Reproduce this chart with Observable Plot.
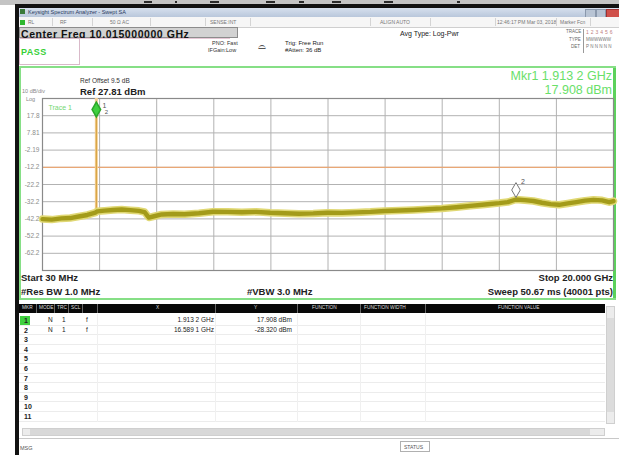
<!DOCTYPE html>
<html><head><meta charset="utf-8">
<script src="https://cdn.jsdelivr.net/npm/d3@7"></script>
<script src="https://cdn.jsdelivr.net/npm/@observablehq/plot@0.6"></script>
<style>
body{margin:0;width:619px;height:455px;overflow:hidden;background:#fff;font-family:"Liberation Sans",Arial,sans-serif;}
#root{position:absolute;left:0;top:0;width:619px;height:455px;overflow:hidden;}
.a{position:absolute;white-space:nowrap;line-height:1;}
.b{position:absolute;}
#plot{position:absolute;left:0;top:66px;}
</style></head><body><div id="root"></div>
<script>
// ---- data ----
const traceFreqGHz = [0.03,0.35,0.7,1.0,1.3,1.6,1.88,1.905,1.9132,1.92,1.95,2.2,2.5,2.8,3.1,3.4,3.6,3.75,3.9,4.2,4.6,5.0,5.5,6.0,6.5,7.0,7.5,8.0,8.5,9.0,9.5,10.0,10.5,11.0,11.5,12.0,12.5,13.0,13.5,14.0,14.5,15.0,15.5,16.0,16.3,16.5891,16.9,17.2,17.5,17.8,18.1,18.4,18.7,19.0,19.3,19.6,19.85,20.0];
const traceLevelDbm = [-42.3,-42.6,-41.9,-41.7,-40.8,-39.9,-38.6,-38.2,17.908,-38.0,-37.8,-37.4,-37.0,-36.7,-37.1,-37.5,-38.2,-41.4,-40.8,-39.6,-39.3,-39.5,-38.9,-38.0,-38.1,-38.3,-38.1,-38.6,-38.9,-39.2,-39.0,-38.6,-38.7,-38.4,-38.1,-37.6,-37.3,-37.0,-36.6,-36.1,-35.4,-34.6,-33.8,-33.0,-32.4,-30.9,-31.3,-31.8,-32.8,-33.6,-34.0,-33.2,-32.4,-31.6,-31.1,-31.4,-32.5,-31.8];
const markerIds = ["1","2"];
const markerFreqGHz = [1.9132,16.5891];
const markerLevelDbm = [17.908,-28.320];
const markerModes = ["N","N"];
const markerTraces = ["1","1"];
const markerScales = ["f","f"];
const markerXText = ["1.913 2 GHz","16.589 1 GHz"];
const markerYText = ["17.908 dBm","-28.320 dBm"];
const refLevelDbm = 27.81;
const dbPerDiv = 10;
const startGHz = 0.03, stopGHz = 20.0;
const yTicks = [17.81,7.81,-2.19,-12.19,-22.19,-32.19,-42.19,-52.19,-62.19];
const yTickLabels = ["17.8","7.81","-2.19","-12.2","-22.2","-32.2","-42.2","-52.2","-62.2"];
const displayLineDbm = -12.19;
const tableRows = ["1","2","3","4","5","6","7","8","9","10","11"];
const tableHeaders = [["MKR",22],["MODE",39],["TRC",57],["SCL",71],["X",156],["Y",254],["FUNCTION",312],["FUNCTION WIDTH",364],["FUNCTION VALUE",498]];

// ---- layout helpers ----
const root = document.getElementById("root");
function box(l,t,w,h,style){const d=document.createElement("div");d.className="b";d.style.cssText=`left:${l}px;top:${t}px;width:${w}px;height:${h}px;`+(style||"");root.appendChild(d);return d;}
function txt(s,l,t,size,style,right){const d=document.createElement("div");d.className="a";d.textContent=s;let pos=right?`right:${619-l}px;`:`left:${l}px;`;d.style.cssText=pos+`top:${t}px;font-size:${size}px;`+(style||"");root.appendChild(d);return d;}

// top strip (cropped glyph bottoms drawn as small dark strokes)
box(0,0,619,5,"background:#c4c4c4;");
[[144,8],[175,2],[210,9],[266,9],[299,5],[332,9],[384,9],[457,3]].forEach(([x,w])=>box(x,1,w,2,"background:#2a2a2a;"));
box(16,4,603,4,"background:#121212;");
box(15,4,4,451,"background:#121212;");
// title bar
box(19,8,600,9,"background:linear-gradient(#d6e0ee,#b9c7db);");
txt("Keysight Spectrum Analyzer - Swept SA",28,9.5,5.5,"color:#2a3a60;");
box(20,9,5,5,"background:#3a7a3a;");
box(585,9,9,7,"background:#b8c4d4;border:1px solid #8a98ac;");
box(596,9,8,7,"background:#b8c4d4;border:1px solid #8a98ac;");
box(606,9,12,7,"background:#d0504a;border:1px solid #a03030;");
// menu/status row
box(19,17,600,10,"background:#f6f6f6;border-bottom:1px solid #cfcfcf;");
box(20,20,5,5,"background:#2fb82f;");
[["RL",28],["RF",60],["50 Ω  AC",110],["SENSE:INT",210],["ALIGN AUTO",380],["12:46:17 PM Mar 03, 2018",497],["Marker Fcn",560]].forEach(([s,x])=>txt(s,x,20,5,"color:#777;"));
[52,92,150,205,250,370,430,495,556,590].forEach(x=>box(x,18,1,8,"background:#d4d4d4;"));
// center freq box
box(19,27,219,11,"background:#d2d2d2;border:1px solid #8c8c8c;box-sizing:border-box;");
txt("Center Freq 10.015000000 GHz",21,28.5,10.5,"font-weight:bold;color:#111;letter-spacing:0.55px;");
// settings area
box(19,38,600,28,"background:#fff;");
box(19,38,61,27,"border:1px solid #d9b9c9;box-sizing:border-box;");
txt("PASS",21,48,9,"font-weight:bold;color:#37d037;letter-spacing:0.5px;");
box(80,38,150,1,"background:#e6c8d6;");
txt("PNO: Fast",212,41,5.5,"color:#333;");
txt("IFGain:Low",208,48,5.5,"color:#333;");
txt("⌓",258,41,10,"color:#555;");
txt("Trig: Free Run",285,40,6,"color:#222;");
txt("#Atten: 36 dB",285,47,6,"color:#222;");
txt("Avg Type: Log-Pwr",400,30,7,"color:#222;");
txt("TRACE",566,30,4.5,"color:#666;");
txt("1 2 3 4 5 6",586,30,5,"color:#c08080;letter-spacing:0.3px;");
txt("TYPE",569,38,4.5,"color:#666;");
txt("MWWWWW",586,38,4.5,"color:#777;");
txt("DET",571,45,4.5,"color:#666;");
txt("P N N N N N",586,45,4.5,"color:#777;");
box(583,29,1,24,"background:#999;");
// graph panel
box(19,66,597,234,"border:2px solid #86df86;box-sizing:border-box;background:#fff;");
box(613,68,3,230,"background:#5cd15c;");
txt("Ref Offset 9.5 dB",80,78,6.5,"color:#333;");
txt("Ref 27.81 dBm",80,87,9.5,"font-weight:bold;color:#222;");
txt("10 dB/div",22,89,5.5,"color:#888;");
txt("Log",26,97,5.5,"color:#888;");
txt("Mkr1 1.913 2 GHz",612,70,12.5,"color:#69e069;",true);
txt("17.908 dBm",612,84,12.5,"color:#69e069;",true);
txt("Start 30 MHz",21,273,9.5,"font-weight:bold;color:#222;");
txt("Stop 20.000 GHz",613,273,9.5,"font-weight:bold;color:#222;",true);
txt("#Res BW 1.0 MHz",21,287,9.5,"font-weight:bold;color:#222;");
txt("#VBW 3.0 MHz",247,287,9.5,"font-weight:bold;color:#222;");
txt("Sweep  50.67 ms (40001 pts)",613,287,9.5,"font-weight:bold;color:#222;",true);

// ---- plot ----
const trace = traceFreqGHz.map((f,i)=>({f, v: traceLevelDbm[i]}));
const floorTrace = trace.filter(d => d.v < 0);
const spike = trace.filter(d => d.v >= 0).map(d => ({f: d.f, v: d.v, base: traceLevelDbm[traceLevelDbm.indexOf(d.v) - 1]}));
const markers = markerIds.map((id,i)=>({id, f: markerFreqGHz[i], v: markerLevelDbm[i]}));
const xGrid = d3.range(1,10).map(k=>startGHz + k*(stopGHz-startGHz)/10);
const labelOf = new Map(yTicks.map((t,i)=>[t,yTickLabels[i]]));
const yDomain = [refLevelDbm - 10*dbPerDiv, refLevelDbm];

const chart = Plot.plot({
  width: 619, height: 234,
  marginLeft: 42, marginRight: 6, marginTop: 32, marginBottom: 30,
  style: {background: "transparent", fontFamily: "Liberation Sans, Arial, sans-serif"},
  x: {domain: [startGHz, stopGHz], axis: null},
  y: {domain: yDomain, axis: null},
  marks: [
    Plot.ruleX(xGrid, {stroke: "#b2b2b2", strokeWidth: 1}),
    Plot.ruleY(yTicks, {stroke: "#b2b2b2", strokeWidth: 1}),
    Plot.ruleY([displayLineDbm], {stroke: "#e9a775", strokeWidth: 1.2}),
    Plot.frame({stroke: "#8a8a8a", strokeWidth: 1.2}),
    Plot.axisY(yTicks, {label: null, tickSize: 0, tickPadding: 3, fontSize: 6.5, fill: "#8c8c8c", tickFormat: d => labelOf.get(d)}),
    Plot.ruleX(spike, {x: "f", y1: "base", y2: yDomain[1], stroke: "#f5cf95", strokeWidth: 3}),
    Plot.ruleX(spike, {x: "f", y1: "base", y2: "v", stroke: "#d6a543", strokeWidth: 1.2}),
    Plot.line(floorTrace, {x: "f", y: "v", stroke: "#e0d874", strokeWidth: 7.5, strokeLinejoin: "round"}),
    Plot.line(floorTrace, {x: "f", y: "v", stroke: "#a39b1a", strokeWidth: 4.4, strokeLinejoin: "round"}),
    Plot.text(["Trace 1"], {frameAnchor: "top-left", dx: 6, dy: 7, fill: "#74d874", fontSize: 7}),
    Plot.dot([markers[0]], {x: "f", y: "v", symbol: "diamond", r: 4.5, dy: -6, fill: "#3fcf3f", stroke: "#2aa82a"}),
    Plot.dot([markers[1]], {x: "f", y: "v", symbol: "diamond", r: 4.5, dy: -5, fill: "#fff", stroke: "#777", strokeWidth: 1}),
    Plot.text([markers[0]], {x: "f", y: "v", text: "id", dx: 8, dy: -10, fill: "#555", fontSize: 7}),
    Plot.text([markers[0]], {x: "f", y: "v", text: d => markerIds[1], dx: 10, dy: -3, fill: "#555", fontSize: 6}),
    Plot.text([markers[1]], {x: "f", y: "v", text: "id", dx: 7, dy: -13, fill: "#555", fontSize: 7})
  ]
});
chart.id = "plot";
root.appendChild(chart);

// ---- marker table ----
box(19,300,600,155,"background:#fff;");
box(19,304,586,9,"background:#080808;");
tableHeaders.forEach(([s,x])=>txt(s,x,306,4.8,"color:#ddd;"));
[36,54,68,82,97,215,297,360,425].forEach(x=>box(x,304,1,9,"background:#666;"));
tableRows.forEach((r,i)=>{
  const y = 317 + i*9.6;
  box(19,y+7.5,586,1,"background:#ececec;");
  if(i===0) box(20,y-1,10,9,"background:#3fd03f;");
  txt(r,24,y,7,"color:#222;font-weight:bold;");
  if(i<markerIds.length){
    txt(markerModes[i],48,y,6.5,"color:#222;");
    txt(markerTraces[i],62,y,6.5,"color:#222;");
    txt(markerScales[i],86,y,6.5,"color:#222;");
    txt(markerXText[i],214,y,6.5,"color:#222;",true);
    txt(markerYText[i],292,y,6.5,"color:#222;",true);
  }
});
[97,215,297,360,425].forEach(x=>box(x,314,1,108,"background:#f0f0f0;"));
box(606,306,9,118,"background:#ececec;border:1px solid #cfcfcf;box-sizing:border-box;");
box(607,318,7,94,"background:#dcdcdc;");
box(22,428,583,8,"background:#ececec;border:1px solid #cfcfcf;box-sizing:border-box;");
box(30,429,560,6,"background:#d8d8d8;");
box(19,438,600,1,"background:#c8c8c8;");
txt("MSG",20,446,5.5,"color:#555;");
box(400,441,30,11,"border:1px solid #b0b0b0;box-sizing:border-box;");
txt("STATUS",404,445,5,"color:#555;");
</script>
</body></html>
